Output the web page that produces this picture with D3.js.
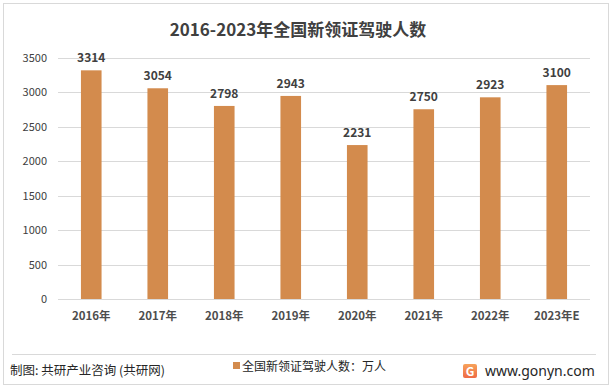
<!DOCTYPE html>
<html>
<head>
<meta charset="utf-8">
<script src="https://cdnjs.cloudflare.com/ajax/libs/d3/7.8.5/d3.min.js"></script>
<style>
  body { margin: 0; background: #fff; }
  svg text { font-family: "Noto Sans CJK SC", "Liberation Sans", sans-serif; }
</style>
</head>
<body>
<div class="chart"></div>
<script>
const FRAME_WIDTH = 615;
const FRAME_HEIGHT = 392;
const MARGINS = {left: 58, right: 25, top: 57.5, bottom: 93};

const YEARS = ["2016年", "2017年", "2018年", "2019年", "2020年", "2021年", "2022年", "2023年E"];
const DRIVERS = [3314, 3054, 2798, 2943, 2231, 2750, 2923, 3100];
const Y_TICKS = [0, 500, 1000, 1500, 2000, 2500, 3000, 3500];

const BAR_COLOR = "#D38B4D";
const TEXT_COLOR = "#404040";

const SVG = d3.select(".chart")
              .append("svg")
              .attr("width", FRAME_WIDTH)
              .attr("height", FRAME_HEIGHT);

// outer frame
SVG.append("rect")
   .attr("x", 3.5).attr("y", 3.5)
   .attr("width", 605).attr("height", 381)
   .attr("fill", "#fff")
   .attr("stroke", "#d9d9d9");

const PLOT_W = FRAME_WIDTH - MARGINS.left - MARGINS.right;
const PLOT_H = FRAME_HEIGHT - MARGINS.top - MARGINS.bottom;

const X_SCALE = d3.scaleBand()
                  .domain(YEARS)
                  .range([MARGINS.left, MARGINS.left + PLOT_W])
                  .paddingInner(0.69)
                  .paddingOuter(0.345);

const Y_SCALE = d3.scaleLinear()
                  .domain([0, 3500])
                  .range([MARGINS.top + PLOT_H, MARGINS.top]);

// title
SVG.append("text")
   .attr("x", 298).attr("y", 36)
   .attr("text-anchor", "middle")
   .attr("font-size", "17px")
   .attr("font-weight", "bold")
   .attr("fill", TEXT_COLOR)
   .text("2016-2023年全国新领证驾驶人数");

// gridlines
SVG.append("g")
   .selectAll("line")
   .data(Y_TICKS)
   .enter()
   .append("line")
     .attr("x1", MARGINS.left)
     .attr("x2", MARGINS.left + PLOT_W)
     .attr("y1", d => Math.round(Y_SCALE(d)) + 0.5)
     .attr("y2", d => Math.round(Y_SCALE(d)) + 0.5)
     .attr("stroke", "#d9d9d9");

// y axis labels
const Y_AXIS = SVG.append("g")
   .attr("transform", "translate(" + (MARGINS.left - 11) + ",0)")
   .call(d3.axisLeft(Y_SCALE).tickValues(Y_TICKS).tickFormat(d3.format("d")).tickSize(0).tickPadding(0));
Y_AXIS.select(".domain").remove();
Y_AXIS.selectAll("text")
   .attr("font-size", "11px")
   .attr("fill", TEXT_COLOR)
   .style("font-family", "'Noto Sans CJK SC', sans-serif");

// bars
SVG.append("g")
   .selectAll("rect")
   .data(YEARS)
   .enter()
   .append("rect")
     .attr("x", d => X_SCALE(d))
     .attr("y", (d, i) => Y_SCALE(DRIVERS[i]))
     .attr("width", X_SCALE.bandwidth())
     .attr("height", (d, i) => Y_SCALE(0) - Y_SCALE(DRIVERS[i]))
     .attr("fill", BAR_COLOR);

// value labels
SVG.append("g")
   .selectAll("text")
   .data(YEARS)
   .enter()
   .append("text")
     .attr("x", d => X_SCALE(d) + X_SCALE.bandwidth() / 2)
     .attr("y", (d, i) => Y_SCALE(DRIVERS[i]) - 8)
     .attr("text-anchor", "middle")
     .attr("font-size", "12px")
     .attr("font-weight", "bold")
     .attr("fill", TEXT_COLOR)
     .text((d, i) => DRIVERS[i]);

// x axis labels
const X_AXIS = SVG.append("g")
   .attr("transform", "translate(0," + (MARGINS.top + PLOT_H + 13) + ")")
   .call(d3.axisBottom(X_SCALE).tickSize(0).tickPadding(0));
X_AXIS.select(".domain").remove();
X_AXIS.selectAll("text")
   .attr("font-size", "11.5px")
   .attr("font-weight", "600")
   .attr("fill", "#4d4d4d")
   .style("font-family", "'Noto Sans CJK SC', sans-serif");

// footer separator
SVG.append("line")
   .attr("x1", 12).attr("x2", 596)
   .attr("y1", 354.5).attr("y2", 354.5)
   .attr("stroke", "#d9d9d9");

SVG.append("text")
   .attr("x", 10).attr("y", 375)
   .attr("font-size", "12.5px")
   .attr("fill", "#262626")
   .text("制图: 共研产业咨询 (共研网)");

// legend
SVG.append("rect")
   .attr("x", 233).attr("y", 362)
   .attr("width", 7).attr("height", 7)
   .attr("fill", BAR_COLOR);
SVG.append("text")
   .attr("x", 242).attr("y", 371)
   .attr("font-size", "12px")
   .attr("fill", "#262626")
   .text("全国新领证驾驶人数：万人");

// logo
const GRAD = SVG.append("defs").append("linearGradient")
   .attr("id", "logo-grad").attr("x1", 0).attr("y1", 0).attr("x2", 0).attr("y2", 1);
GRAD.append("stop").attr("offset", "0%").attr("stop-color", "#F7A25A");
GRAD.append("stop").attr("offset", "100%").attr("stop-color", "#EE6A45");
const LOGO = SVG.append("g").attr("transform", "translate(463,364)");
LOGO.append("rect")
   .attr("width", 14).attr("height", 14).attr("rx", 2)
   .attr("fill", "url(#logo-grad)");
LOGO.append("text")
   .attr("x", 7).attr("y", 11.5)
   .attr("text-anchor", "middle")
   .attr("font-size", "12px")
   .attr("font-weight", "bold")
   .attr("fill", "#fff")
   .text("G");
SVG.append("text")
   .attr("x", 485).attr("y", 376)
   .attr("font-size", "14px")
   .attr("fill", "#262626")
   .style("font-family", "'Noto Sans', sans-serif")
   .text("www.gonyn.com");
</script>
</body>
</html>
